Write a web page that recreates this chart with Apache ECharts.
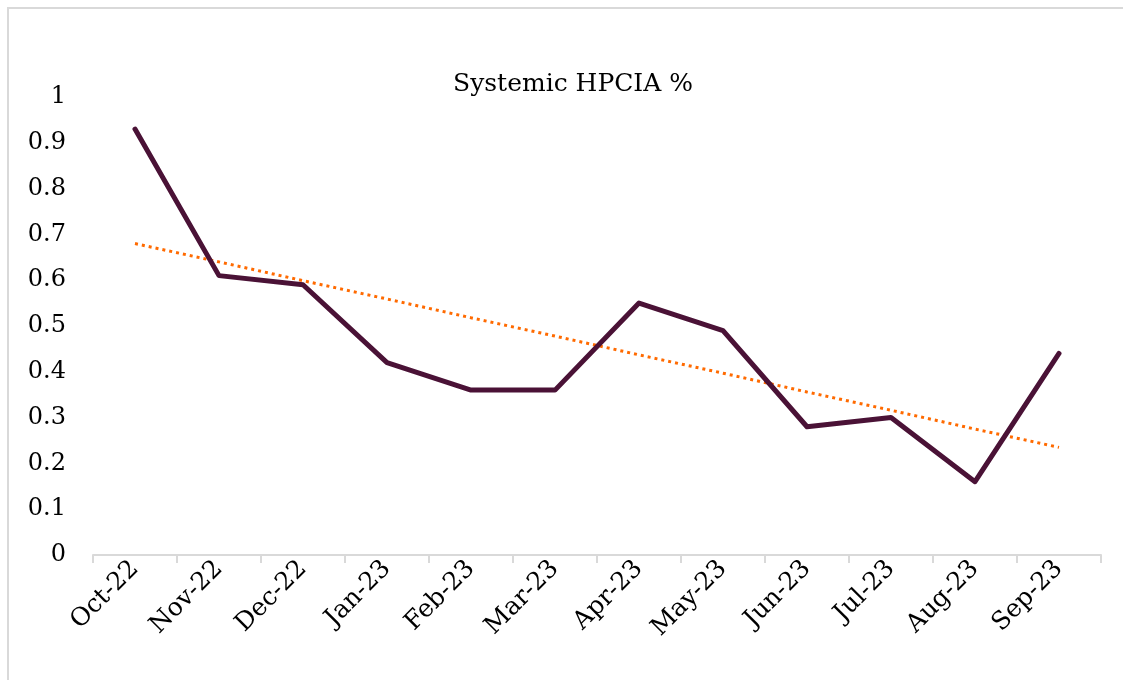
<!DOCTYPE html>
<html><head><meta charset="utf-8">
<script src="https://cdn.jsdelivr.net/npm/echarts@6/dist/echarts.min.js"></script>
<style>
html,body{margin:0;padding:0;background:#fff;overflow:hidden;}
#chart{position:absolute;left:0;top:0;width:1123px;height:680px;}
</style></head>
<body>
<div id="chart"></div>
<script>
const categories = ['Oct-22','Nov-22','Dec-22','Jan-23','Feb-23','Mar-23','Apr-23','May-23','Jun-23','Jul-23','Aug-23','Sep-23'];
const hpciaValues = [0.93, 0.61, 0.59, 0.42, 0.36, 0.36, 0.55, 0.49, 0.28, 0.30, 0.16, 0.44];
const trendValues = [0.680, 0.640, 0.599, 0.559, 0.518, 0.478, 0.437, 0.397, 0.356, 0.316, 0.275, 0.235];
const titleText = 'Systemic HPCIA %';
const fontFam = '"DejaVu Serif", "Liberation Serif", serif';

const chart = echarts.init(document.getElementById('chart'), null, {renderer:'canvas'});
chart.setOption({
  animation: false,
  backgroundColor: '#fff',
  graphic: [
    {type: 'polyline', shape: {points: [[8, 700], [8, 8], [1140, 8]]}, style: {stroke: '#d9d9d9', lineWidth: 2, fill: null}, silent: true}
  ],
  title: {
    text: titleText, left: 568, top: 67, textAlign: 'center',
    textStyle: {fontFamily: fontFam, fontSize: 25, fontWeight: 'normal', color: '#000'}
  },
  grid: {left: 93, right: 22, top: 97, bottom: 125, containLabel: false},
  xAxis: {
    type: 'category', data: categories, boundaryGap: true,
    axisLine: {show: true, lineStyle: {color: '#d9d9d9', width: 2}},
    axisTick: {show: true, alignWithLabel: false, length: 8, lineStyle: {color: '#d9d9d9', width: 2}},
    axisLabel: {rotate: 45, margin: 10, fontFamily: fontFam, fontSize: 25, color: '#000', interval: 0},
    splitLine: {show: false}
  },
  yAxis: {
    type: 'value', min: 0, max: 1, interval: 0.1,
    axisLine: {show: false}, axisTick: {show: false}, splitLine: {show: false},
    axisLabel: {margin: 27, fontFamily: fontFam, fontSize: 24, color: '#000',
      formatter: v => String(Math.round(v * 10) / 10)}
  },
  series: [
    {type: 'line', data: hpciaValues, symbol: 'none', lineStyle: {color: '#4a1236', width: 5, cap: 'round', join: 'round'}, z: 3},
    {type: 'line', data: trendValues, symbol: 'none', lineStyle: {color: '#ff6a00', width: 3, type: [3, 4]}, z: 2}
  ]
});
</script>
</body></html>
